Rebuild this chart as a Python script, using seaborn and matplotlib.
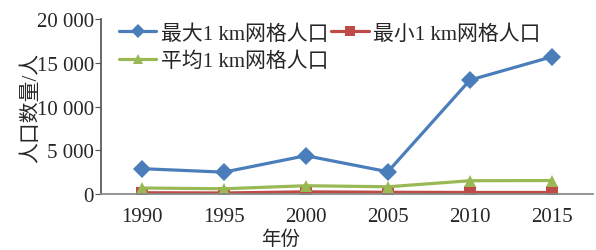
import matplotlib
matplotlib.use("Agg")
import matplotlib.pyplot as plt
import seaborn as sns
import pandas as pd
from matplotlib.ticker import FuncFormatter

years = ["1990", "1995", "2000", "2005", "2010", "2015"]
max_pop = [2900, 2500, 4380, 2550, 13030, 15690]
min_pop = [150, 120, 250, 200, 180, 180]
mean_pop = [690, 600, 950, 830, 1520, 1540]
names = ["最大1 km网格人口", "最小1 km网格人口", "平均1 km网格人口"]
colors = ["#4A7EBB", "#BE4B48", "#98B954"]
markers = ["D", "s", "^"]

rows = []
for name, vals in zip(names, [max_pop, min_pop, mean_pop]):
    for y, v in zip(years, vals):
        rows.append({"year": y, "pop": v, "series": name})
df = pd.DataFrame(rows)

sns.set_theme(style="white")
plt.rcParams['font.family'] = ['Liberation Serif', 'Noto Sans CJK SC']

fig = plt.figure(figsize=(5.96, 2.51), dpi=100)
ax = fig.add_axes([0.169, 0.223, 0.826, 0.697])

sns.lineplot(data=df, x="year", y="pop", hue="series", style="series",
             hue_order=names, style_order=names,
             palette=dict(zip(names, colors)),
             markers=dict(zip(names, markers)), dashes=False,
             linewidth=2.3, markersize=9, markeredgewidth=0, ax=ax)

ax.set_xlim(-0.5, 5.5)
ax.set_ylim(0, 20000)
ax.set_yticks([0, 5000, 10000, 15000, 20000])
ax.yaxis.set_major_formatter(FuncFormatter(lambda v, p: f"{int(v):,}".replace(",", " ")))
for s in ["top", "right"]:
    ax.spines[s].set_visible(False)
ax.spines["left"].set_color("#555555")
ax.spines["bottom"].set_color("#888888")
ax.tick_params(axis="y", left=True, length=4, width=0.8, color="#555555",
               labelsize=15, pad=1)
ax.tick_params(axis="x", bottom=False, labelsize=15, pad=3)
ax.set_xlabel("年份", fontsize=14)
ax.xaxis.set_label_coords(0.366, -0.2)
ax.set_ylabel("人口数量/人", fontsize=15)
ax.yaxis.set_label_coords(-0.122, 0.5)

handles, labels = ax.get_legend_handles_labels()
hmap = dict(zip(labels, handles))
order = [names[0], names[2], names[1]]
ax.legend([hmap[n] for n in order], order, ncol=2, loc="upper left",
          bbox_to_anchor=(0.02, 1.02), frameon=False, fontsize=15,
          handlelength=1.8, handletextpad=0.2, columnspacing=0.15,
          labelspacing=0.4, borderaxespad=0, markerscale=0.8)

fig.savefig("out.png", dpi=100)
